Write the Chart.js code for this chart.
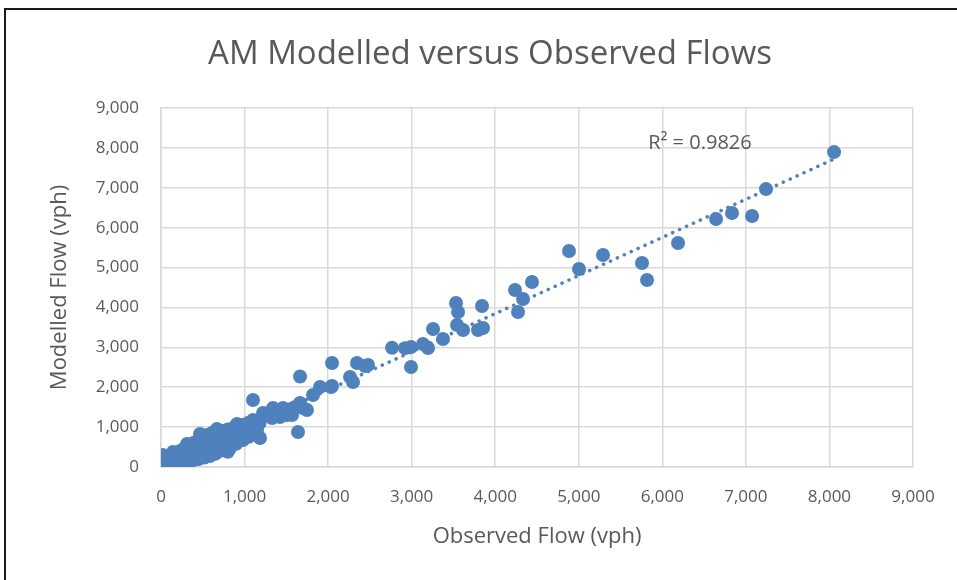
<!DOCTYPE html>
<html>
<head>
<meta charset="utf-8">
<script src="https://cdn.jsdelivr.net/npm/chart.js@4.4.1/dist/chart.umd.min.js"></script>
<style>
  body { margin: 0; background: #fff; overflow: hidden; }
  #wrap { position: relative; width: 957px; height: 580px; }
  #frame {
    position: absolute; left: 4px; top: 8px; width: 1200px; height: 1200px;
    border-left: 2px solid #1a1a1a; border-top: 2px solid #1a1a1a;
    pointer-events: none;
  }
</style>
</head>
<body>
<div id="wrap">
  <canvas id="chart" width="957" height="580"></canvas>
  <div id="frame"></div>
</div>
<script>
// Observed (x) and modelled (y) flows, vph
const observedFlow = [
  // dense cluster near the origin
  0, 10, 20, 30, 40, 50, 60, 70, 80, 90, 100, 110, 120, 130, 140, 150, 160, 170, 180, 190,
  200, 210, 220, 230, 240, 250, 260, 270, 280, 290, 300, 310, 320, 330, 340, 350, 360, 370, 380, 390,
  400, 410, 420, 430, 440, 450, 460, 470, 480, 490, 500, 510, 520, 530, 540, 550, 560, 580, 600, 610,
  620, 640, 650, 660, 680, 700, 720, 730, 750, 770, 790, 800, 820, 840, 860, 880, 900, 920, 940, 960,
  980, 1000, 1020, 1040, 1060, 1080, 1100, 1120, 1150, 1180, 20, 144, 311, 467, 670, 910, 347, 586, 826, 981,
  450, 520, 650, 700, 760, 900, 1050, 250, 380, 560,
  // 1,000 - 2,500
  1101, 1341, 1460, 1700, 1664, 1568, 1329, 1640, 1185, 1747, 1508, 1424, 1221, 1101, 981, 1149, 1250, 1280, 1380, 1550,
  1600, 1664, 2047, 2346, 2442, 2478, 2262, 2298, 2035, 1903, 1819, 2047, 800,
  // upper range
  2765, 2920, 2992, 2992, 3136, 3196, 3256, 3375, 3531, 3555, 3543, 3615, 3794, 3854, 3842, 4237, 4333, 4273, 4440, 4883,
  5003, 5290, 5757, 5817, 6188, 6643, 6834, 7074, 7241, 8055
];
const modelledFlow = [
  0, 30, 10, 60, 120, 20, 80, 150, 40, 100, 200, 60, 130, 250, 90, 170, 300, 110, 220, 350,
  140, 260, 180, 400, 210, 310, 150, 450, 240, 330, 180, 500, 280, 380, 220, 560, 300, 420, 250, 600,
  340, 460, 280, 640, 380, 500, 330, 700, 420, 540, 380, 760, 460, 580, 420, 800, 500, 620, 470, 850,
  560, 680, 500, 880, 620, 720, 560, 900, 680, 780, 620, 940, 720, 850, 680, 1000, 800, 900, 760, 1050,
  850, 950, 820, 1100, 920, 1020, 880, 1150, 1000, 1100, 300, 376, 576, 827, 952, 1077, 150, 276, 476, 677,
  200, 240, 330, 400, 430, 580, 760, 90, 170, 300,
  1679, 1479, 1479, 1479, 1604, 1303, 1228, 877, 727, 1429, 1303, 1253, 1353, 1178, 1003, 927, 1300, 1350, 1400, 1450,
  1500, 2270, 2607, 2607, 2531, 2556, 2256, 2130, 2005, 2005, 1805, 2030, 380,
  2990, 2980, 3010, 2506, 3083, 2982, 3458, 3208, 4110, 3885, 3559, 3433, 3433, 3483, 4035, 4436, 4210, 3885, 4637, 5414,
  4962, 5313, 5113, 4687, 5614, 6216, 6366, 6291, 6967, 7895
];
const axisMax = 9000;
const axisStep = 1000;
const chartTitle = 'AM Modelled versus Observed Flows';
const rSquaredText = 'R² = 0.9826';
const labelAt = { x: 5830, y: 8120 };

const points = observedFlow.map((x, i) => ({ x, y: modelledFlow[i] }));

// linear least-squares trendline, as the spreadsheet draws it
const n = observedFlow.length;
const meanX = observedFlow.reduce((a, b) => a + b, 0) / n;
const meanY = modelledFlow.reduce((a, b) => a + b, 0) / n;
let sxy = 0, sxx = 0;
observedFlow.forEach((x, i) => { sxy += (x - meanX) * (modelledFlow[i] - meanY); sxx += (x - meanX) ** 2; });
const slope = sxy / sxx;
const intercept = meanY - slope * meanX;
const minX = Math.min(...observedFlow), maxX = Math.max(...observedFlow);
const trend = [minX, maxX].map(x => ({ x, y: intercept + slope * x }));

const textColor = '#595959';
const gridColor = '#d9d9d9';
const fmt = v => v.toLocaleString('en-US');

// title and R² label drawn as text on the canvas
const labels = {
  id: 'labels',
  afterDatasetsDraw(chart) {
    const { ctx, scales } = chart;
    ctx.save();
    ctx.fillStyle = textColor;
    ctx.textBaseline = 'middle';
    ctx.font = '20px "Open Sans"';
    ctx.textAlign = 'left';
    ctx.fillText(rSquaredText, scales.x.getPixelForValue(labelAt.x), scales.y.getPixelForValue(labelAt.y));
    ctx.font = '33px "Open Sans"';
    ctx.textAlign = 'center';
    ctx.fillText(chartTitle, 490, 55);
    ctx.restore();
  }
};

const whiteBg = {
  id: 'whiteBg',
  beforeDraw(chart) {
    const { ctx } = chart;
    ctx.save();
    ctx.fillStyle = '#fff';
    ctx.fillRect(0, 0, chart.width, chart.height);
    ctx.restore();
  }
};

new Chart(document.getElementById('chart').getContext('2d'), {
  type: 'scatter',
  data: {
    datasets: [
      {
        label: 'Trend',
        type: 'line',
        data: trend,
        borderColor: '#4F81BD',
        borderWidth: 3.5,
        borderDash: [0.1, 7.5],
        borderCapStyle: 'round',
        pointRadius: 0,
        fill: false,
        order: 0
      },
      {
        label: 'Flows',
        data: points,
        pointRadius: 7,
        pointHoverRadius: 7,
        pointBackgroundColor: '#4F81BD',
        pointBorderWidth: 0,
        order: 1
      }
    ]
  },
  options: {
    responsive: false,
    animation: false,
    layout: { padding: { left: 0, right: 44, top: 108, bottom: 0 } },
    plugins: {
      legend: { display: false },
      tooltip: { enabled: false },
      title: { display: false }
    },
    scales: {
      x: {
        type: 'linear',
        min: 0,
        max: axisMax,
        afterFit(scale) { scale.height = 113; },
        grid: { color: gridColor, lineWidth: 1.5, drawTicks: false },
        border: { color: gridColor, width: 1.5 },
        ticks: {
          stepSize: axisStep,
          padding: 20,
          color: textColor,
          font: { family: 'Open Sans', size: 17 },
          maxRotation: 0,
          callback: fmt
        },
        title: {
          display: true,
          text: 'Observed Flow (vph)',
          color: textColor,
          font: { family: 'Open Sans', size: 22, lineHeight: 1.2 },
          padding: { top: 0, bottom: 30 }
        }
      },
      y: {
        type: 'linear',
        min: 0,
        max: axisMax,
        afterFit(scale) { scale.width = 161; },
        grid: { color: gridColor, lineWidth: 1.5, drawTicks: false },
        border: { color: gridColor, width: 1.5 },
        ticks: {
          stepSize: axisStep,
          padding: 22,
          color: textColor,
          font: { family: 'Open Sans', size: 17 },
          callback: fmt
        },
        title: {
          display: true,
          text: 'Modelled Flow (vph)',
          color: textColor,
          font: { family: 'Open Sans', size: 22, lineHeight: 1.2 },
          padding: { top: 47, bottom: 0 }
        }
      }
    }
  },
  plugins: [whiteBg, labels]
});
</script>
</body>
</html>
